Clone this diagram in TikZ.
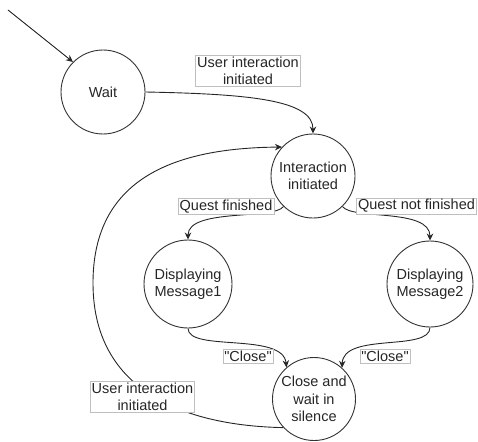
\documentclass[tikz,border=0pt]{standalone}
\usepackage{fontspec}
\setmainfont{Liberation Sans}
\usetikzlibrary{arrows.meta}
\begin{document}
\begin{tikzpicture}[x=1pt,y=-1pt,
  state/.style={circle,draw=black!80,line width=0.9pt,inner sep=0pt,align=center,
    font=\fontsize{14.5}{17.5}\selectfont,text=black!85},
  lbl/.style={draw=black!25,fill=white,line width=0.6pt,inner sep=1.5pt,align=center,
    font=\fontsize{14.5}{17}\selectfont,text=black!85},
  conn/.style={draw=black!85,line width=0.9pt,-{Stealth[length=7pt,width=6.5pt]}}]
\useasboundingbox (0,0) rectangle (478,441);
\node[state,minimum size=84pt] (wait) at (103,92) {Wait};
\node[state,minimum size=84pt] (inter) at (313,176) {Interaction\\initiated};
\node[state,minimum size=88pt] (dm1) at (188,284) {Displaying\\Message1};
\node[state,minimum size=86pt] (dm2) at (430,284) {Displaying\\Message2};
\node[state,minimum size=83pt] (close) at (314,399) {Close and\\wait in\\silence};
\coordinate (start) at (8,10);
% connectors
\draw[conn] (start) -- (wait.135);
\draw[conn] (wait.east) .. controls (250,94) and (313,100) .. (inter.north);
\draw[conn] (inter.226) .. controls (274,220) and (188,208) .. (dm1.north);
\draw[conn] (inter.314) .. controls (352,220) and (430,208) .. (dm2.north);
\draw[conn] (dm1.south) .. controls (188,352) and (283,332) .. (close.131);
\draw[conn] (dm2.south) .. controls (430,352) and (343,332) .. (close.48);
\draw[conn] (close.223) .. controls (200,426) and (93,400) .. (93,283)
   .. controls (93,178) and (175,148) .. (inter.137);
% labels
\node[lbl] (l1) at (248,70.5) {User interaction\\initiated};
\node[lbl] (l2) at (226,206.5) {Quest finished};
\node[lbl] (l3) at (416.5,206) {Quest not finished};
\node[lbl] (l4) at (248,356.5) {\textquotedbl Close\textquotedbl};
\node[lbl] (l5) at (385,356.5) {\textquotedbl Close\textquotedbl};
\node[lbl] (l6) at (142.5,397) {User interaction\\initiated};
\end{tikzpicture}
\end{document}
